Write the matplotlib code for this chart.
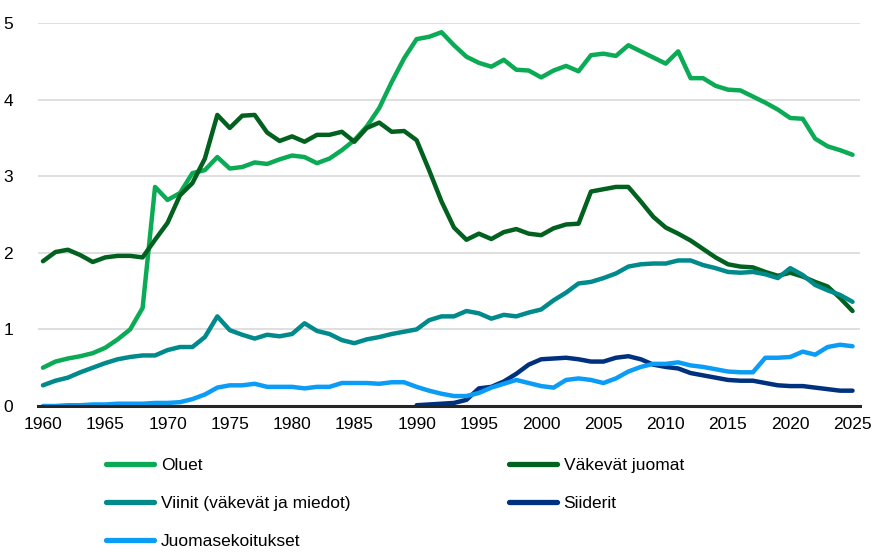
import numpy as np
import matplotlib
matplotlib.use("Agg")
import matplotlib.pyplot as plt
from matplotlib.lines import Line2D

years = np.arange(1960, 2026)

oluet = [0.50, 0.58, 0.62, 0.65, 0.69, 0.76, 0.87, 1.00, 1.28, 2.86,
         2.69, 2.78, 3.04, 3.08, 3.25, 3.10, 3.12, 3.18, 3.16, 3.22,
         3.27, 3.25, 3.17, 3.23, 3.34, 3.47, 3.65, 3.89, 4.23, 4.54,
         4.79, 4.82, 4.88, 4.71, 4.56, 4.48, 4.43, 4.52, 4.39, 4.38,
         4.29, 4.38, 4.44, 4.37, 4.58, 4.60, 4.57, 4.71, 4.63, 4.55,
         4.47, 4.63, 4.28, 4.28, 4.18, 4.13, 4.12, 4.04, 3.96, 3.87,
         3.76, 3.75, 3.49, 3.39, 3.34, 3.28]

vakevat = [1.89, 2.01, 2.04, 1.97, 1.88, 1.94, 1.96, 1.96, 1.94, 2.17,
           2.39, 2.75, 2.91, 3.23, 3.80, 3.63, 3.79, 3.80, 3.57, 3.46,
           3.52, 3.45, 3.54, 3.54, 3.58, 3.45, 3.63, 3.70, 3.58, 3.59,
           3.47, 3.08, 2.67, 2.33, 2.17, 2.25, 2.18, 2.27, 2.31, 2.25,
           2.23, 2.32, 2.37, 2.38, 2.80, 2.83, 2.86, 2.86, 2.67, 2.47,
           2.33, 2.25, 2.16, 2.05, 1.94, 1.85, 1.82, 1.81, 1.75, 1.70,
           1.74, 1.69, 1.62, 1.56, 1.41, 1.24]

viinit = [0.27, 0.33, 0.37, 0.44, 0.50, 0.56, 0.61, 0.64, 0.66, 0.66,
          0.73, 0.77, 0.77, 0.90, 1.17, 0.99, 0.93, 0.88, 0.93, 0.91,
          0.94, 1.08, 0.98, 0.94, 0.86, 0.82, 0.87, 0.90, 0.94, 0.97,
          1.00, 1.12, 1.17, 1.17, 1.24, 1.21, 1.14, 1.19, 1.17, 1.22,
          1.26, 1.38, 1.48, 1.60, 1.62, 1.67, 1.73, 1.82, 1.85, 1.86,
          1.86, 1.90, 1.90, 1.84, 1.80, 1.75, 1.74, 1.75, 1.72, 1.67,
          1.80, 1.71, 1.58, 1.51, 1.45, 1.36]

siiderit_years = np.arange(1990, 2026)
siiderit = [0.01, 0.02, 0.03, 0.04, 0.08, 0.23, 0.25, 0.32, 0.42, 0.54,
            0.61, 0.62, 0.63, 0.61, 0.58, 0.58, 0.63, 0.65, 0.61, 0.54,
            0.51, 0.49, 0.43, 0.40, 0.37, 0.34, 0.33, 0.33, 0.30, 0.27,
            0.26, 0.26, 0.24, 0.22, 0.20, 0.20]

juomasek = [0.00, 0.00, 0.01, 0.01, 0.02, 0.02, 0.03, 0.03, 0.03, 0.04,
            0.04, 0.05, 0.09, 0.15, 0.24, 0.27, 0.27, 0.29, 0.25, 0.25,
            0.25, 0.23, 0.25, 0.25, 0.30, 0.30, 0.30, 0.29, 0.31, 0.31,
            0.25, 0.20, 0.16, 0.13, 0.13, 0.17, 0.24, 0.29, 0.34, 0.30,
            0.26, 0.24, 0.34, 0.36, 0.34, 0.30, 0.36, 0.45, 0.51, 0.55,
            0.55, 0.57, 0.53, 0.51, 0.48, 0.45, 0.44, 0.44, 0.63, 0.63,
            0.64, 0.71, 0.67, 0.77, 0.80, 0.78]

labels = ["Oluet", "Väkevät juomat", "Viinit (väkevät ja miedot)",
          "Siiderit", "Juomasekoitukset"]
colors = ["#0BAA55", "#02611F", "#008A8C", "#00317F", "#0B9CF5"]

plt.rcParams["font.family"] = ["Liberation Sans", "DejaVu Sans"]

fig = plt.figure(figsize=(8.79, 5.52), dpi=100)
ax = fig.add_axes([0.0432, 0.2645, 0.9352, 0.6938])

series = [(years, oluet), (years, vakevat), (years, viinit),
          (siiderit_years, siiderit), (years, juomasek)]
for (x, y), c, lab in zip(series, colors, labels):
    ax.plot(x, y, color=c, lw=3.2, label=lab, solid_capstyle="round",
            solid_joinstyle="round")

ax.set_xlim(1959.6, 2025.6)
ax.set_ylim(0, 5)
ax.set_xticks(np.arange(1960, 2026, 5))
ax.set_yticks(np.arange(0, 6, 1))
ax.grid(axis="y", color="#D9D9D9", lw=1.2)
ax.set_axisbelow(True)
for s in ["top", "right", "left"]:
    ax.spines[s].set_visible(False)
ax.spines["bottom"].set_color("#262626")
ax.spines["bottom"].set_linewidth(2.2)
ax.spines["bottom"].set_zorder(5)
ax.tick_params(axis="both", length=0, labelsize=12.5, colors="black")
ax.tick_params(axis="x", pad=8)
ax.tick_params(axis="y", pad=18)

def handle(c):
    return Line2D([0], [0], color=c, lw=3.8, solid_capstyle="round")

leg_kw = dict(frameon=False, fontsize=12.5, handlelength=2.75,
              handletextpad=0.4, labelspacing=1.3, borderpad=0,
              borderaxespad=0)
idx1 = [0, 2, 4]
idx2 = [1, 3]
fig.legend([handle(colors[i]) for i in idx1], [labels[i] for i in idx1],
           loc="upper left", bbox_to_anchor=(106 / 879, 1 - 458 / 552), **leg_kw)
fig.legend([handle(colors[i]) for i in idx2], [labels[i] for i in idx2],
           loc="upper left", bbox_to_anchor=(509 / 879, 1 - 458 / 552), **leg_kw)

fig.savefig("out.png", dpi=100)
